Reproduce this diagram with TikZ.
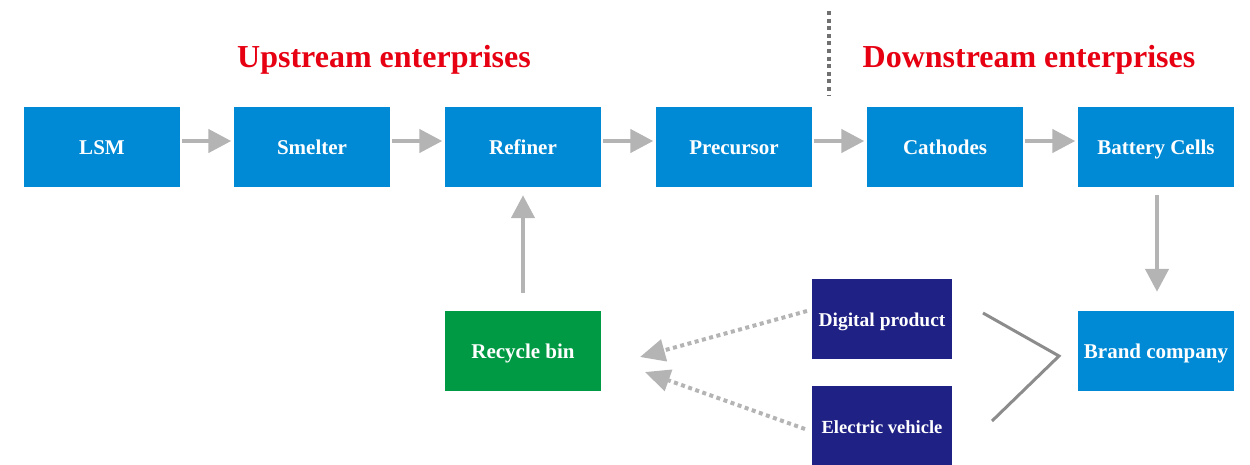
\documentclass[tikz,border=0pt]{standalone}
\usepackage{fontspec}
\setmainfont{Liberation Serif}
\usetikzlibrary{arrows.meta}
\definecolor{cblue}{RGB}{0,138,214}
\definecolor{cgreen}{RGB}{0,154,68}
\definecolor{cnavy}{RGB}{31,33,133}
\definecolor{cred}{RGB}{230,0,18}
\definecolor{carrow}{RGB}{180,180,180}
\definecolor{cdark}{RGB}{140,140,140}
\definecolor{cdiv}{RGB}{112,112,112}
\tikzset{
  box/.style={minimum width=156pt,minimum height=80pt,inner sep=0pt,text=white,
    text height=14pt,text depth=0pt,
    font=\bfseries\fontsize{21}{25}\selectfont},
  bluebox/.style={box,fill=cblue},
  greenbox/.style={box,fill=cgreen},
  navybox/.style={box,fill=cnavy,minimum width=140pt},
  title/.style={text=cred,font=\bfseries\fontsize{32}{36}\selectfont,anchor=base,inner sep=0pt},
  flow/.style={draw=carrow,line width=4.5pt,-{Triangle[length=23pt,width=23pt]}},
  dotflow/.style={draw=carrow,line width=4pt,dash pattern=on 4pt off 3.5pt,-{Triangle[length=25pt,width=22pt]}},
  gtline/.style={draw=cdark,line width=3pt}
}
\begin{document}
\begin{tikzpicture}[x=1pt,y=-1pt]
\useasboundingbox (0,0) rectangle (1250,464);
% titles
\node[title] (up) at (384,67) {Upstream enterprises};
\node[title] (down) at (1029,67) {Downstream enterprises};
% divider
\coordinate (dv1) at (828.5,11);
\coordinate (dv2) at (828.5,96);
\draw[cdiv,line width=4pt,dash pattern=on 4pt off 3.6pt] (dv1) -- (dv2);
% row of boxes
\node[bluebox] (lsm) at (102,147) {LSM};
\node[bluebox] (smelter) at (312,147) {Smelter};
\node[bluebox] (refiner) at (523,147) {Refiner};
\node[bluebox] (precursor) at (734,147) {Precursor};
\node[bluebox] (cathodes) at (945,147) {Cathodes};
\node[bluebox] (battery) at (1156,147) {Battery Cells};
% lower boxes
\node[greenbox] (recycle) at (523,351) {Recycle bin};
\node[bluebox] (brand) at (1156,351) {Brand company};
\node[navybox,font=\bfseries\fontsize{19.5}{23}\selectfont] (digital) at (882,319) {Digital product};
\node[navybox,font=\bfseries\fontsize{18.5}{23}\selectfont] (ev) at (882,426) {Electric vehicle};
% horizontal arrows
\foreach \a/\b in {lsm/smelter,smelter/refiner,refiner/precursor,precursor/cathodes,cathodes/battery}
  \draw[flow,shorten <=1.5pt,shorten >=2.5pt] ([yshift=6pt]\a.east) -- ([yshift=6pt]\b.west);
% vertical arrows
\draw[flow,shorten <=18pt,shorten >=8pt] (recycle.north) -- (refiner.south);
\draw[flow,shorten <=8pt,shorten >=19pt] ([xshift=1pt]battery.south) -- ([xshift=1pt]brand.north);
% dotted arrows to recycle bin
\coordinate (d1s) at (807,311);
\coordinate (d1t) at (640,357);
\coordinate (d2s) at (805,429);
\coordinate (d2t) at (645,372);
\draw[dotflow] (d1s) -- (d1t);
\draw[dotflow] (d2s) -- (d2t);
% greater-than bracket
\coordinate (g1) at (983,313);
\coordinate (g2) at (1059,356);
\coordinate (g3) at (992,421);
\draw[gtline] (g1) -- (g2) -- (g3);
\end{tikzpicture}
\end{document}
